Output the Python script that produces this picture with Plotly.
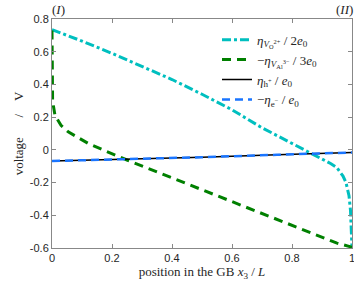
import plotly.graph_objects as go

# data
x_cyan = [0, 0.1, 0.2, 0.3, 0.4, 0.5, 0.6, 0.7, 0.8, 0.85, 0.87, 0.9, 0.93, 0.95, 0.97, 0.98, 0.99, 0.995, 0.998, 1.0]
y_cyan = [0.735, 0.665, 0.59, 0.51, 0.43, 0.34, 0.245, 0.135, 0.04, -0.005, -0.025, -0.055, -0.085, -0.11, -0.16, -0.2, -0.28, -0.37, -0.47, -0.6]

x_green = [0, 0.0005, 0.002, 0.01, 0.03, 0.054, 0.12, 0.17, 0.25, 0.5, 0.75, 0.95, 1.0]
y_green = [0.73, 0.5, 0.3, 0.21, 0.15, 0.11, 0.04, 0.0, -0.062, -0.244, -0.425, -0.57, -0.595]

x_carrier = [0, 0.25, 0.5, 0.75, 1.0]
y_hole = [-0.068, -0.058, -0.045, -0.03, -0.016]
y_elec = [-0.068, -0.058, -0.045, -0.03, -0.016]

names = [
    "<i>η</i><sub><i>V</i><sub>O</sub><sup>2+</sup></sub> / 2<i>e</i><sub>0</sub>",
    "−<i>η</i><sub><i>V</i><sub>Al</sub><sup>3−</sup></sub> / 3<i>e</i><sub>0</sub>",
    "<i>η</i><sub>h<sup>+</sup></sub> / <i>e</i><sub>0</sub>",
    "−<i>η</i><sub>e<sup>−</sup></sub> / <i>e</i><sub>0</sub>",
]

fig = go.Figure()
fig.add_trace(go.Scatter(x=x_cyan, y=y_cyan, mode="lines", name=names[0],
                         line=dict(color="#00BFBF", width=3, dash="9px,3px,3px,3px")))
fig.add_trace(go.Scatter(x=x_green, y=y_green, mode="lines", name=names[1],
                         line=dict(color="#008000", width=3, dash="9px,6px")))
fig.add_trace(go.Scatter(x=x_carrier, y=y_hole, mode="lines", name=names[2],
                         line=dict(color="black", width=1.5)))
fig.add_trace(go.Scatter(x=x_carrier, y=y_elec, mode="lines", name=names[3],
                         line=dict(color="#1A75FF", width=2.5, dash="8px,5px")))

axis_common = dict(showline=True, linecolor="#888888", linewidth=1, mirror="ticks",
                   ticks="inside", ticklen=4, tickcolor="#888888", showgrid=False,
                   zeroline=False, automargin=False, ticklabeloverflow="allow",
                   tickfont=dict(family="Liberation Sans", size=11, color="#262626"))

fig.update_xaxes(range=[0, 1], tickvals=[0, 0.2, 0.4, 0.6, 0.8, 1],
                 ticktext=["0", "0.2", "0.4", "0.6", "0.8", "1"],
                 title=dict(text="position in the GB <i>x</i><sub>3</sub> / <i>L</i>",
                            font=dict(family="Liberation Serif", size=13, color="#262626"), standoff=0),
                 **axis_common)
fig.update_yaxes(range=[-0.6, 0.8], tickvals=[-0.6, -0.4, -0.2, 0, 0.2, 0.4, 0.6, 0.8],
                 ticktext=["-0.6", "-0.4", "-0.2", "0", "0.2", "0.4", "0.6", "0.8"],
                 title=dict(text="voltage" + "&nbsp;" * 6 + "/" + "&nbsp;" * 4 + "V",
                            font=dict(family="Liberation Serif", size=13, color="#262626"), standoff=3),
                 **axis_common)

fig.add_annotation(x=0, y=1, xref="paper", yref="paper", xanchor="left", yanchor="bottom",
                   text="(<i>I</i>)", showarrow=False, xshift=-2, yshift=0,
                   font=dict(family="Liberation Serif", size=13, color="#262626"))
fig.add_annotation(x=1, y=1, xref="paper", yref="paper", xanchor="right", yanchor="bottom",
                   text="(<i>II</i>)", showarrow=False, xshift=3, yshift=0,
                   font=dict(family="Liberation Serif", size=13, color="#262626"))

fig.update_layout(
    width=354, height=288,
    margin=dict(l=52, r=2, t=19, b=40, autoexpand=False),
    paper_bgcolor="white", plot_bgcolor="white",
    showlegend=True,
    legend=dict(x=0.55, y=0.975, xanchor="left", yanchor="top", bgcolor="rgba(0,0,0,0)",
                font=dict(family="Liberation Serif", size=13, color="#262626"),
                tracegroupgap=0, itemwidth=30),
)

fig.write_html("out.html", config={"displayModeBar": False},
               post_script="document.body.style.margin='0px';")
